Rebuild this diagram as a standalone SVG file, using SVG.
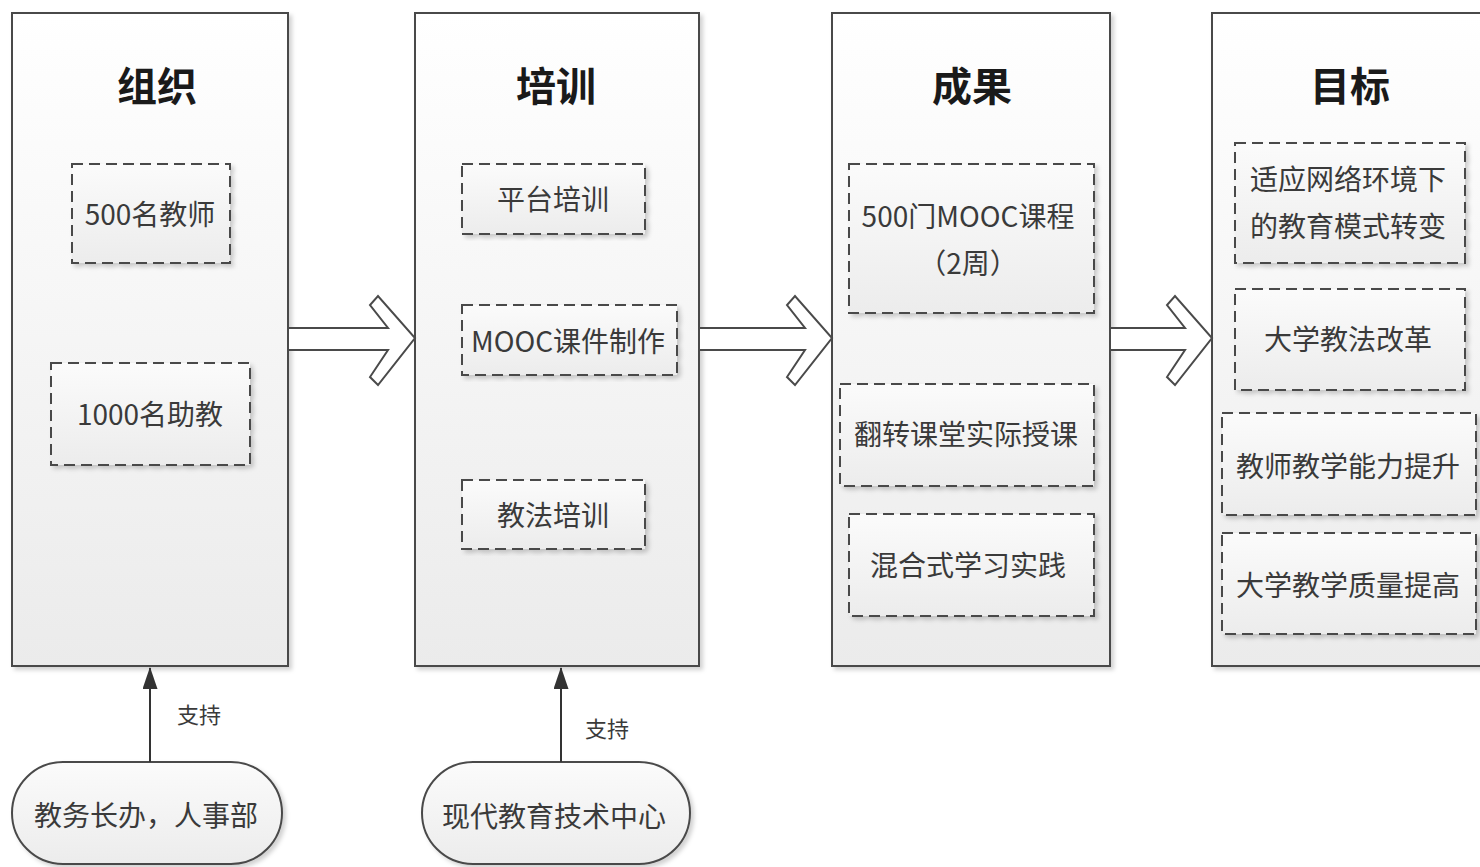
<svg xmlns="http://www.w3.org/2000/svg" width="1480" height="867" viewBox="0 0 1480 867">
  <defs>
    <linearGradient id="panelFill" x1="0" y1="0" x2="0" y2="1">
      <stop offset="0" stop-color="#ffffff"/>
      <stop offset="1" stop-color="#ebebeb"/>
    </linearGradient>
    <linearGradient id="boxFill" x1="0" y1="0" x2="0" y2="1">
      <stop offset="0" stop-color="#fbfbfb"/>
      <stop offset="1" stop-color="#ececec"/>
    </linearGradient>
    <filter id="shadow" x="-5%" y="-5%" width="115%" height="115%">
      <feDropShadow dx="3" dy="3" stdDeviation="2" flood-color="#000" flood-opacity="0.18"/>
    </filter>
    <marker id="tri" viewBox="0 0 22 15" refX="21" refY="7.5" markerWidth="22" markerHeight="15" markerUnits="userSpaceOnUse" orient="auto">
      <path d="M0,0 L22,7.5 L0,15 Z" fill="#333"/>
    </marker>
  </defs>
  <style>
    .panel { fill: url(#panelFill); stroke: #4a4a4a; stroke-width: 2; filter: url(#shadow); }
    .box { fill: url(#boxFill); stroke: #4a4a4a; stroke-width: 2; stroke-dasharray: 11 6; filter: url(#shadow); }
    .pill { fill: url(#boxFill); stroke: #4a4a4a; stroke-width: 2; filter: url(#shadow); }
    .title { font-family: "Noto Sans CJK SC", "Liberation Sans", sans-serif; font-size: 40px; font-weight: bold; fill: #1a1a1a; text-anchor: middle; dominant-baseline: central; }
    .lbl { font-family: "Noto Sans CJK SC", "Liberation Sans", sans-serif; font-size: 28px; fill: #3a3a3a; text-anchor: middle; dominant-baseline: central; }
    .small { font-family: "Noto Sans CJK SC", "Liberation Sans", sans-serif; font-size: 22px; fill: #3a3a3a; text-anchor: middle; dominant-baseline: central; }
    .flow { fill: #ffffff; stroke: #4a4a4a; stroke-width: 2; stroke-linejoin: miter; }
    .support { stroke: #333; stroke-width: 2; fill: none; }
  </style>

  <!-- Column 1: organisation -->
  <g id="organize">
    <rect class="panel" x="12" y="13" width="276" height="653"/>
    <text class="title" x="157" y="84">组织</text>
    <rect class="box" x="72" y="164" width="158" height="99"/>
    <text class="lbl" x="150" y="213">500名教师</text>
    <rect class="box" x="51" y="363" width="199" height="102"/>
    <text class="lbl" x="150" y="413">1000名助教</text>
  </g>

  <!-- Column 2: training -->
  <g id="training">
    <rect class="panel" x="415" y="13" width="284" height="653"/>
    <text class="title" x="556" y="84">培训</text>
    <rect class="box" x="462" y="164" width="183" height="70"/>
    <text class="lbl" x="553" y="198">平台培训</text>
    <rect class="box" x="462" y="305" width="215" height="70"/>
    <text class="lbl" x="568" y="340">MOOC课件制作</text>
    <rect class="box" x="462" y="480" width="183" height="69"/>
    <text class="lbl" x="553" y="514">教法培训</text>
  </g>

  <!-- Column 3: results -->
  <g id="results">
    <rect class="panel" x="832" y="13" width="278" height="653"/>
    <text class="title" x="972" y="84">成果</text>
    <rect class="box" x="849" y="164" width="245" height="149"/>
    <text class="lbl" x="968" y="215">500门MOOC课程</text>
    <text class="lbl" x="968" y="262">（2周）</text>
    <rect class="box" x="840" y="384" width="254" height="102"/>
    <text class="lbl" x="966" y="433">翻转课堂实际授课</text>
    <rect class="box" x="849" y="514" width="245" height="102"/>
    <text class="lbl" x="968" y="564">混合式学习实践</text>
  </g>

  <!-- Column 4: goals -->
  <g id="goals">
    <rect class="panel" x="1212" y="13" width="290" height="653"/>
    <text class="title" x="1350" y="84">目标</text>
    <rect class="box" x="1235" y="143" width="230" height="120"/>
    <text class="lbl" x="1348" y="178">适应网络环境下</text>
    <text class="lbl" x="1348" y="225">的教育模式转变</text>
    <rect class="box" x="1235" y="289" width="230" height="101"/>
    <text class="lbl" x="1348" y="338">大学教法改革</text>
    <rect class="box" x="1222" y="413" width="254" height="102"/>
    <text class="lbl" x="1348" y="465">教师教学能力提升</text>
    <rect class="box" x="1222" y="533" width="254" height="101"/>
    <text class="lbl" x="1348" y="584">大学教学质量提高</text>
  </g>

  <!-- Supporting units -->
  <g id="office">
    <rect class="pill" x="12" y="762" width="270" height="102" rx="51" ry="51"/>
    <text class="lbl" x="146" y="814">教务长办，人事部</text>
  </g>
  <g id="edtech">
    <rect class="pill" x="422" y="762" width="268" height="102" rx="51" ry="51"/>
    <text class="lbl" x="554" y="815">现代教育技术中心</text>
  </g>

  <!-- Connectors -->
  <g id="connectors">
    <!-- hollow block arrows between the stages -->
    <path class="flow" d="M288,328 L388,328 L370,305 L378,296 L415,338 L378,385 L370,377 L388,350 L288,350 Z"/>
    <path class="flow" d="M699,328 L805,328 L787,305 L795,296 L832,338 L795,385 L787,377 L805,350 L699,350 Z"/>
    <path class="flow" d="M1110,328 L1185,328 L1167,305 L1175,296 L1212,338 L1175,385 L1167,377 L1185,350 L1110,350 Z"/>
    <!-- support links -->
    <line class="support" x1="150" y1="762" x2="150" y2="668" marker-end="url(#tri)"/>
    <text class="small" x="199" y="713">支持</text>
    <line class="support" x1="561" y1="762" x2="561" y2="668" marker-end="url(#tri)"/>
    <text class="small" x="607" y="727">支持</text>
  </g>
</svg>
